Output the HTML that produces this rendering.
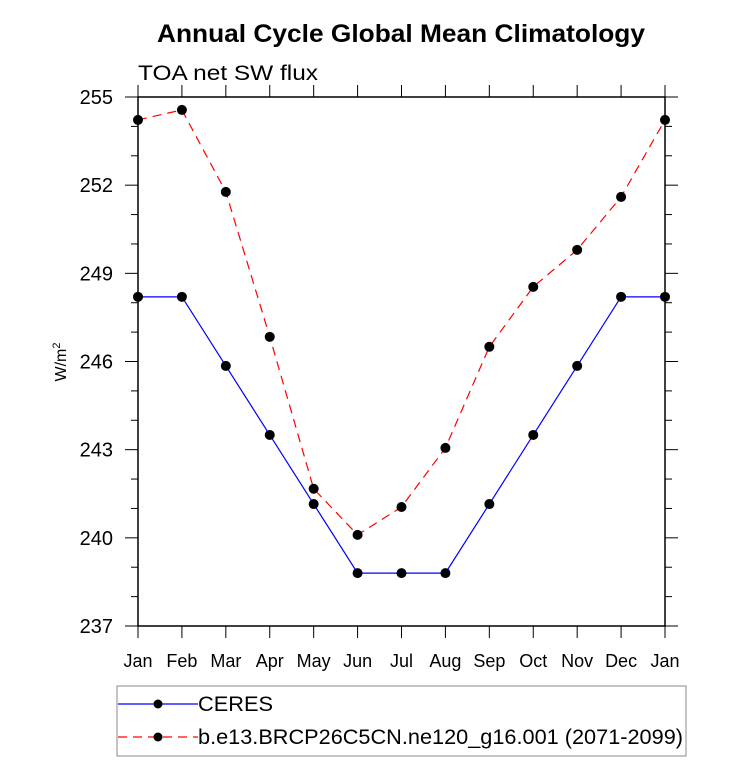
<!DOCTYPE html>
<html><head><meta charset="utf-8"><style>
body{margin:0;background:#fff;}
svg{display:block;font-family:"Liberation Sans",sans-serif;}
</style></head><body>
<svg id="chart" width="733" height="762">
<text x="157" y="42" font-size="25" font-weight="bold" textLength="488" lengthAdjust="spacingAndGlyphs">Annual Cycle Global Mean Climatology</text>
<text x="138" y="80" font-size="21" textLength="180" lengthAdjust="spacingAndGlyphs">TOA net SW flux</text>
<text transform="translate(66,362) rotate(-90)" text-anchor="middle" font-size="16">W/m<tspan dy="-6" font-size="11">2</tspan></text>
<g id="axes"></g>
<g id="series"></g>
<rect x="117" y="686" width="569" height="70" fill="none" stroke="#888" stroke-width="1"/>
<g>
<line x1="118" y1="704" x2="198" y2="704" stroke="#0000ff" stroke-width="1.2"/>
<circle cx="158" cy="704" r="4.5" fill="#000"/>
<text x="198" y="711" font-size="21" textLength="75" lengthAdjust="spacingAndGlyphs">CERES</text>
</g>
<g>
<line x1="118" y1="737" x2="198" y2="737" stroke="#ff0000" stroke-width="1.2" stroke-dasharray="9,6"/>
<circle cx="158" cy="737" r="4.5" fill="#000"/>
<text x="198" y="744" font-size="21" textLength="485" lengthAdjust="spacingAndGlyphs">b.e13.BRCP26C5CN.ne120_g16.001 (2071-2099)</text>
</g>
</svg>
<script>
const months = ["Jan","Feb","Mar","Apr","May","Jun","Jul","Aug","Sep","Oct","Nov","Dec","Jan"];
const yTicks = [237,240,243,246,249,252,255];
const ceres = [248.2,248.2,245.85,243.5,241.15,238.8,238.8,238.8,241.15,243.5,245.85,248.2,248.2];
const model = [254.22,254.56,251.77,246.84,241.67,240.1,241.05,243.06,246.5,248.54,249.8,251.6,254.22];

const NS="http://www.w3.org/2000/svg";
const X0=138, X1=665, Y0=626, Y1=97, YMIN=237, YMAX=255;
function xs(i){return X0+(X1-X0)*i/12;}
function ys(v){return Y0-(v-YMIN)/(YMAX-YMIN)*(Y0-Y1);}
function mk(tag,attrs,parent){const e=document.createElementNS(NS,tag);for(const k in attrs)e.setAttribute(k,attrs[k]);parent.appendChild(e);return e;}
const axes=document.getElementById('axes'), ser=document.getElementById('series');

const frame=mk('rect',{x:X0,y:Y1,width:X1-X0,height:Y0-Y1,fill:'none',stroke:'#000','stroke-width':1.5},axes);



months.forEach((m,i)=>{
  const x=xs(i);
  mk('line',{x1:x,y1:Y0,x2:x,y2:Y0+12,stroke:'#000','stroke-width':1},axes);
  mk('line',{x1:x,y1:Y1,x2:x,y2:Y1-12,stroke:'#000','stroke-width':1},axes);
  const t=mk('text',{x:x,y:Y0+41,'text-anchor':'middle','font-size':18},axes);
  t.textContent=m;
  
  
});
for(let v=YMIN;v<=YMAX;v+=1){
  const y=ys(v), major=yTicks.includes(v), L=major?13:7;
  mk('line',{x1:X0-L,y1:y,x2:X0,y2:y,stroke:'#000','stroke-width':1},axes);
  mk('line',{x1:X1,y1:y,x2:X1+L,y2:y,stroke:'#000','stroke-width':1},axes);
}
yTicks.forEach(v=>{
  const t=mk('text',{x:X0-25,y:ys(v)+7,'text-anchor':'end','font-size':20},axes);
  t.textContent=v;
  
  
});

function draw(vals,color,dash,name){
  const p=mk('polyline',{points:vals.map((v,i)=>xs(i)+','+ys(v)).join(' '),fill:'none',stroke:color,'stroke-width':1.2},ser);
  if(dash)p.setAttribute('stroke-dasharray',dash);
  
  
  vals.forEach((v,i)=>{
    const c=mk('circle',{cx:xs(i),cy:ys(v),r:5,fill:'#000'},ser);
    
    
  });
}
draw(ceres,'#0000ff',null,'ceres');
draw(model,'#ff0000','9,6','model');
</script>
</body></html>
